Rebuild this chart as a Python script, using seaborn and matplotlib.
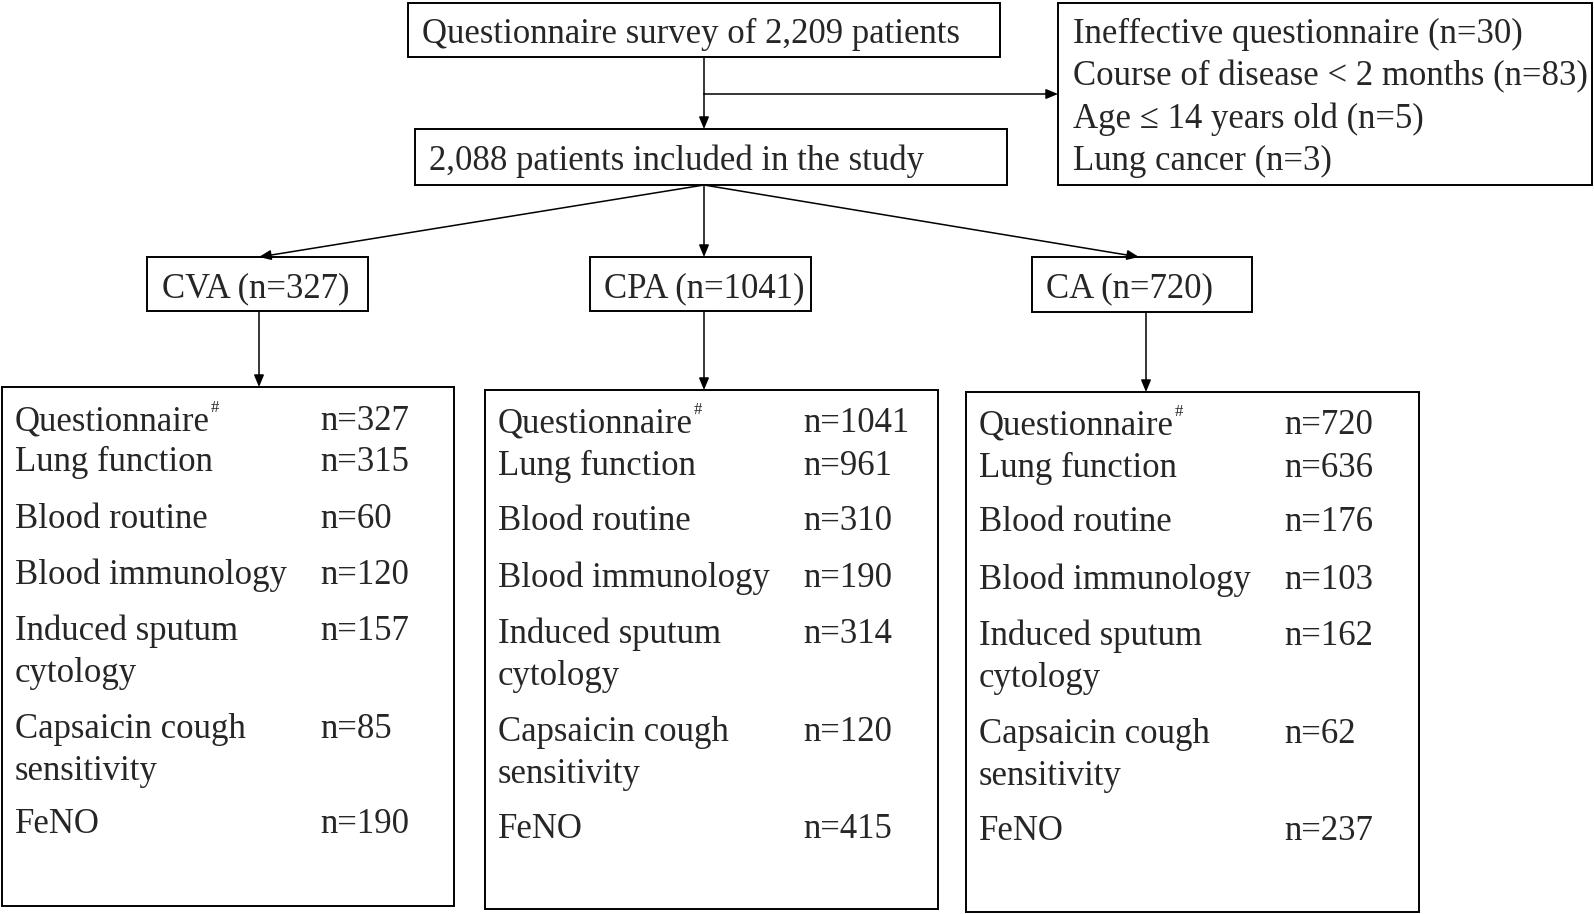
import matplotlib
matplotlib.use("Agg")
import matplotlib.pyplot as plt
import seaborn as sns
from matplotlib.patches import Rectangle

sns.set_theme(style="white")
plt.rcParams['font.family'] = ['Liberation Serif', 'DejaVu Serif']

# ---- data ----
top_text = "Questionnaire survey of 2,209 patients"
included_text = "2,088 patients included in the study"
excluded_lines = ["Ineffective questionnaire (n=30)",
                  "Course of disease < 2 months (n=83)",
                  "Age \u2264 14 years old (n=5)",
                  "Lung cancer (n=3)"]
groups = ["CVA", "CPA", "CA"]
group_n = [327, 1041, 720]
measures = ["Questionnaire", "Lung function", "Blood routine", "Blood immunology",
            "Induced sputum\ncytology", "Capsaicin cough\nsensitivity", "FeNO"]
cva_vals = [327, 315, 60, 120, 157, 85, 190]
cpa_vals = [1041, 961, 310, 190, 314, 120, 415]
ca_vals = [720, 636, 176, 103, 162, 62, 237]
group_vals = [cva_vals, cpa_vals, ca_vals]

# ---- layout (pixel coords) ----
W, H = 1594, 914
fig = plt.figure(figsize=(W / 100, H / 100), dpi=100)
ax = fig.add_axes([0, 0, 1, 1])
ax.set_xlim(0, W)
ax.set_ylim(H, 0)
ax.axis("off")

FS = 25
LW = 1.4
DY = 3.5  # vertical text offset

def box(x0, y0, x1, y1):
    ax.add_patch(Rectangle((x0, y0), x1 - x0, y1 - y0, fill=False,
                           edgecolor="black", linewidth=LW))

def arrow(x0, y0, x1, y1):
    ax.annotate("", xy=(x1, y1), xytext=(x0, y0),
                arrowprops=dict(arrowstyle="-|>,head_length=0.6,head_width=0.25",
                                color="black", lw=1.1, shrinkA=0, shrinkB=0))

# top box
box(408, 3, 1000, 57)
ax.text(422, 31 + DY, top_text, fontsize=FS, va="center", ha="left")
# included box
box(415, 129, 1007, 185)
ax.text(429, 158 + DY, included_text, fontsize=FS, va="center", ha="left")
# exclusion box
box(1058, 3, 1592, 185)
for i, line in enumerate(excluded_lines):
    ax.text(1073, 31 + DY + i * 42.2, line, fontsize=FS, va="center", ha="left")

# arrows top
ax.plot([704, 704], [57, 94], color="black", lw=1.1)
arrow(704, 94, 704, 129)
arrow(704, 94, 1058, 94)

# group boxes
gbox = [(147, 257, 368, 311), (590, 257, 811, 311), (1032, 257, 1252, 312)]
gtext_x = [162, 604, 1046]
garrow_x = [259, 704, 1139]
for g, n, (x0, y0, x1, y1), tx, ax_x in zip(groups, group_n, gbox, gtext_x, garrow_x):
    box(x0, y0, x1, y1)
    ax.text(tx, (y0 + y1) / 2 + 1 + DY, f"{g} (n={n})", fontsize=FS, va="center", ha="left")
    arrow(704, 185, ax_x, y0)

# detail boxes
dbox = [(2, 387, 454, 906), (485, 390, 938, 909), (966, 392, 1419, 912)]
darrow_x = [259, 704, 1146]
label_x = [15, 498, 979]
value_x = [320, 803, 1284]
row_y = [[418, 459, 516, 572, 649, 747, 821],
         [420, 463, 518, 575, 652, 750, 826],
         [422, 465, 519, 577, 654, 752, 828]]
first_line_off = 21

fig.canvas.draw()
renderer = fig.canvas.get_renderer()
inv = ax.transData.inverted()

for gi in range(3):
    x0, y0, x1, y1 = dbox[gi]
    box(x0, y0, x1, y1)
    arrow(darrow_x[gi], gbox[gi][3], darrow_x[gi], y0)
    for mi, (m, v) in enumerate(zip(measures, group_vals[gi])):
        yc = row_y[gi][mi] + DY
        if "\n" in m:
            l1, l2 = m.split("\n")
            ax.text(label_x[gi], yc - first_line_off, l1, fontsize=FS, va="center", ha="left")
            ax.text(label_x[gi], yc + first_line_off, l2, fontsize=FS, va="center", ha="left")
            ax.text(value_x[gi], yc - first_line_off, f"n={v}", fontsize=FS, va="center", ha="left")
        else:
            t = ax.text(label_x[gi], yc, m, fontsize=FS, va="center", ha="left")
            ax.text(value_x[gi], yc, f"n={v}", fontsize=FS, va="center", ha="left")
            if mi == 0:
                bb = t.get_window_extent(renderer=renderer)
                xr, ytop = inv.transform((bb.x1, bb.y1))
                ax.text(xr + 0.5, yc - 14, "#", fontsize=12, va="center", ha="left")

fig.savefig("out.png", dpi=100)
